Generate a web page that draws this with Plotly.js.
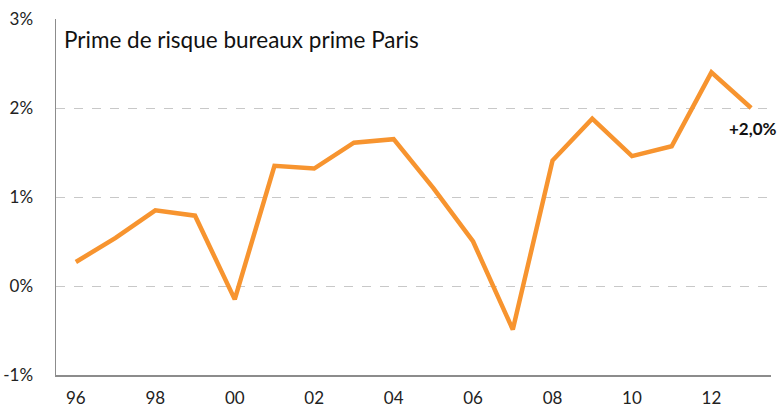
<!DOCTYPE html>
<html>
<head>
<meta charset="utf-8">
<script src="https://cdn.plot.ly/plotly-3.0.1.min.js"></script>
<style>html,body{margin:0;padding:0;background:#fff;}#chart{width:778px;height:407px;}</style>
</head>
<body>
<div id="chart"></div>
<script>
var years = ["96","97","98","99","00","01","02","03","04","05","06","07","08","09","10","11","12","13"];
var riskPremium = [0.27,0.54,0.85,0.79,-0.15,1.35,1.32,1.61,1.65,1.10,0.50,-0.49,1.41,1.88,1.46,1.57,2.40,2.00];
var yTickVals = [-1,0,1,2,3];
var yTickText = ["-1%","0%","1%","2%","3%"];
var xTickLabels = ["96","98","00","02","04","06","08","10","12"];
var chartTitle = "Prime de risque bureaux prime Paris";
var lastLabel = "+2,0%";

var idx = years.map(function(_, i){ return i; });
var xTickVals = xTickLabels.map(function(l){ return years.indexOf(l); });

var font = "Lato, 'Open Sans', sans-serif";

var trace = {
  x: idx, y: riskPremium, type: "scatter", mode: "lines",
  line: {color: "#F7942F", width: 4.5, shape: "linear"},
  hoverinfo: "skip"
};

var layout = {
  width: 778, height: 407,
  margin: {l: 56, r: 7, t: 19, b: 32},
  paper_bgcolor: "#ffffff", plot_bgcolor: "#ffffff",
  showlegend: false,
  font: {family: font, size: 16, color: "#222"},
  xaxis: {
    range: [-0.5, 17.5], tickvals: xTickVals, ticktext: xTickLabels,
    showgrid: false, zeroline: false, showline: true, linecolor: "#8c8c8c", linewidth: 1.5,
    ticks: "", ticklabelstandoff: 7, tickfont: {family: font, size: 17, color: "#222"}, fixedrange: true
  },
  yaxis: {
    range: [-1, 3], tickvals: yTickVals, ticktext: yTickText,
    showgrid: true, gridcolor: "#c8c8c8", griddash: "dash", gridwidth: 1,
    zeroline: false, showline: true, linecolor: "#8c8c8c", linewidth: 1.5,
    ticks: "", ticklabelstandoff: 18, tickfont: {family: font, size: 17, color: "#222"}, fixedrange: true
  },
  annotations: [
    {xref: "paper", yref: "paper", x: 0.008, y: 0.985, xanchor: "left", yanchor: "top",
     text: chartTitle, showarrow: false, font: {family: font, size: 22.5, color: "#111"}},
    {xref: "x", yref: "y", x: years.length - 1, y: riskPremium[riskPremium.length - 1],
     xanchor: "left", yanchor: "top", xshift: -24, yshift: -8,
     text: "<b>" + lastLabel + "</b>", showarrow: false, font: {family: font, size: 17, color: "#111"}}
  ]
};

Plotly.newPlot("chart", [trace], layout, {displayModeBar: false, staticPlot: true});
</script>
</body>
</html>
